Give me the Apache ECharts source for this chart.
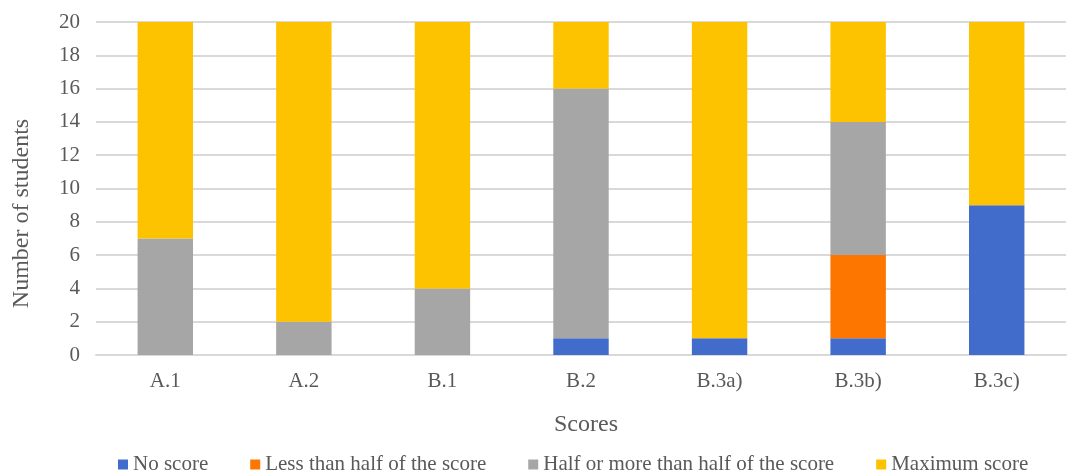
<!DOCTYPE html>
<html>
<head>
<meta charset="utf-8">
<script src="https://cdn.jsdelivr.net/npm/echarts@6/dist/echarts.min.js"></script>
<style>html,body{margin:0;padding:0;background:#fff}#c{width:1067px;height:474px}</style>
</head>
<body>
<div id="c"></div>
<script>
const categories = ['A.1', 'A.2', 'B.1', 'B.2', 'B.3a)', 'B.3b)', 'B.3c)'];
const noScore = [0, 0, 0, 1, 1, 1, 9];
const lessThanHalf = [0, 0, 0, 0, 0, 5, 0];
const halfOrMore = [7, 2, 4, 15, 0, 8, 0];
const maximumScore = [13, 18, 16, 4, 19, 6, 11];
const seriesNames = ['No score', 'Less than half of the score', 'Half or more than half of the score', 'Maximum score'];
const colors = ['#416CCB', '#FC7600', '#A6A6A6', '#FDC300'];

const font = 'Liberation Serif';
const textColor = '#595959';
const chart = echarts.init(document.getElementById('c'));
const data = [noScore, lessThanHalf, halfOrMore, maximumScore];
chart.setOption({
  animation: false,
  color: colors,
  textStyle: { fontFamily: font },
  grid: { left: 96, right: 1, top: 22, bottom: 119, containLabel: false },
  legend: {
    left: 118, top: 454, padding: 0,
    icon: 'rect', itemWidth: 10, itemHeight: 10, itemGap: 42,
    textStyle: { fontFamily: font, fontSize: 21, color: textColor },
    data: seriesNames
  },
  xAxis: {
    type: 'category', data: categories,
    name: 'Scores', nameLocation: 'middle', nameGap: 70,
    nameTextStyle: { fontFamily: font, fontSize: 24, color: textColor, verticalAlign: 'middle', padding: [0, 0, 0, 10] },
    axisTick: { show: false },
    axisLine: { lineStyle: { color: '#d9d9d9', width: 2 } },
    axisLabel: { fontFamily: font, fontSize: 21, color: textColor, margin: 16 }
  },
  yAxis: {
    type: 'value', min: 0, max: 20, interval: 2,
    name: 'Number of students', nameLocation: 'middle', nameGap: 74,
    nameTextStyle: { fontFamily: font, fontSize: 24, color: textColor, verticalAlign: 'middle', padding: [0, 50, 0, 0] },
    axisLine: { show: false }, axisTick: { show: false },
    splitLine: { lineStyle: { color: '#d9d9d9', width: 2 } },
    axisLabel: { fontFamily: font, fontSize: 21, color: textColor, margin: 16 }
  },
  series: seriesNames.map((n, i) => ({
    name: n, type: 'bar', stack: 'total', barWidth: '40%',
    data: data[i], itemStyle: { color: colors[i] }
  }))
});
</script>
</body>
</html>
